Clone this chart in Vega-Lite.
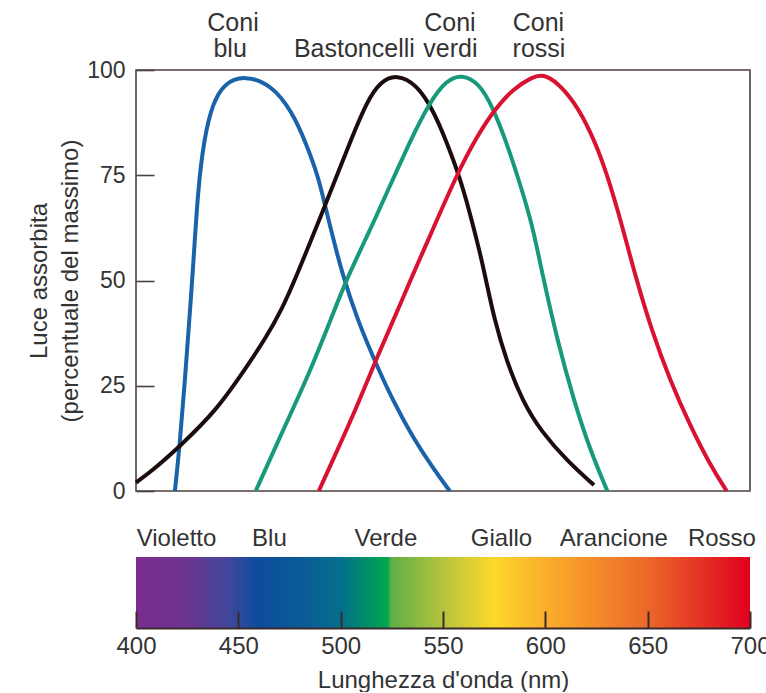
{
  "$schema": "https://vega.github.io/schema/vega-lite/v6.json",
  "background": "white",
  "padding": {"left": 26, "top": 10, "right": 0, "bottom": 0},
  "spacing": 23,
  "config": {
    "font": "Liberation Sans",
    "view": {"stroke": null},
    "axis": {
      "labelFont": "Liberation Sans",
      "titleFont": "Liberation Sans",
      "labelColor": "#333333",
      "titleColor": "#333333",
      "labelFontSize": 23,
      "titleFontSize": 24,
      "titleFontWeight": "normal",
      "grid": false
    }
  },
  "datasets": {
    "curves": [
      {"curve": "Coni blu", "nm": 419, "v": 0},
      {"curve": "Coni blu", "nm": 421.2, "v": 10},
      {"curve": "Coni blu", "nm": 423.7, "v": 25},
      {"curve": "Coni blu", "nm": 426.1, "v": 41},
      {"curve": "Coni blu", "nm": 427.9, "v": 53},
      {"curve": "Coni blu", "nm": 430.3, "v": 72},
      {"curve": "Coni blu", "nm": 433.4, "v": 84},
      {"curve": "Coni blu", "nm": 437.4, "v": 92},
      {"curve": "Coni blu", "nm": 443, "v": 96.8},
      {"curve": "Coni blu", "nm": 452.8, "v": 98.8},
      {"curve": "Coni blu", "nm": 466.6, "v": 96.4},
      {"curve": "Coni blu", "nm": 476.3, "v": 90},
      {"curve": "Coni blu", "nm": 482.8, "v": 83},
      {"curve": "Coni blu", "nm": 489.3, "v": 74.3},
      {"curve": "Coni blu", "nm": 492.2, "v": 68},
      {"curve": "Coni blu", "nm": 497.4, "v": 58},
      {"curve": "Coni blu", "nm": 500.6, "v": 52},
      {"curve": "Coni blu", "nm": 507.9, "v": 41},
      {"curve": "Coni blu", "nm": 516.8, "v": 30.7},
      {"curve": "Coni blu", "nm": 525.8, "v": 21.2},
      {"curve": "Coni blu", "nm": 535.5, "v": 12.5},
      {"curve": "Coni blu", "nm": 545.2, "v": 5.4},
      {"curve": "Coni blu", "nm": 553.3, "v": 0},
      {"curve": "Bastoncelli", "nm": 400, "v": 2},
      {"curve": "Bastoncelli", "nm": 408.3, "v": 5},
      {"curve": "Bastoncelli", "nm": 421.2, "v": 10.5},
      {"curve": "Bastoncelli", "nm": 439, "v": 19},
      {"curve": "Bastoncelli", "nm": 452, "v": 28},
      {"curve": "Bastoncelli", "nm": 463.4, "v": 36.3},
      {"curve": "Bastoncelli", "nm": 471.5, "v": 43.4},
      {"curve": "Bastoncelli", "nm": 478, "v": 50.5},
      {"curve": "Bastoncelli", "nm": 491.7, "v": 67},
      {"curve": "Bastoncelli", "nm": 498.2, "v": 75},
      {"curve": "Bastoncelli", "nm": 504.7, "v": 83},
      {"curve": "Bastoncelli", "nm": 512.8, "v": 92.5},
      {"curve": "Bastoncelli", "nm": 519.3, "v": 97.2},
      {"curve": "Bastoncelli", "nm": 527.4, "v": 99},
      {"curve": "Bastoncelli", "nm": 537.1, "v": 96.6},
      {"curve": "Bastoncelli", "nm": 545.2, "v": 90.5},
      {"curve": "Bastoncelli", "nm": 551.7, "v": 83},
      {"curve": "Bastoncelli", "nm": 558.2, "v": 74.5},
      {"curve": "Bastoncelli", "nm": 563, "v": 66.3},
      {"curve": "Bastoncelli", "nm": 567.9, "v": 57},
      {"curve": "Bastoncelli", "nm": 571.5, "v": 49},
      {"curve": "Bastoncelli", "nm": 575, "v": 41},
      {"curve": "Bastoncelli", "nm": 580.9, "v": 31},
      {"curve": "Bastoncelli", "nm": 589, "v": 21.2},
      {"curve": "Bastoncelli", "nm": 597.9, "v": 14.2},
      {"curve": "Bastoncelli", "nm": 610.9, "v": 7},
      {"curve": "Bastoncelli", "nm": 623.8, "v": 1.4},
      {"curve": "Coni verdi", "nm": 458.5, "v": 0},
      {"curve": "Coni verdi", "nm": 471.5, "v": 14.1},
      {"curve": "Coni verdi", "nm": 484.4, "v": 27.6},
      {"curve": "Coni verdi", "nm": 495.8, "v": 41.5},
      {"curve": "Coni verdi", "nm": 503, "v": 50.5},
      {"curve": "Coni verdi", "nm": 514.4, "v": 62},
      {"curve": "Coni verdi", "nm": 524.1, "v": 72.5},
      {"curve": "Coni verdi", "nm": 533.8, "v": 83},
      {"curve": "Coni verdi", "nm": 543.6, "v": 92.5},
      {"curve": "Coni verdi", "nm": 551.7, "v": 97.6},
      {"curve": "Coni verdi", "nm": 559, "v": 99},
      {"curve": "Coni verdi", "nm": 567.9, "v": 96.8},
      {"curve": "Coni verdi", "nm": 574.4, "v": 91},
      {"curve": "Coni verdi", "nm": 580.9, "v": 83},
      {"curve": "Coni verdi", "nm": 587.3, "v": 73.5},
      {"curve": "Coni verdi", "nm": 593.8, "v": 63},
      {"curve": "Coni verdi", "nm": 598.3, "v": 52},
      {"curve": "Coni verdi", "nm": 606, "v": 35.5},
      {"curve": "Coni verdi", "nm": 614.1, "v": 21.2},
      {"curve": "Coni verdi", "nm": 622.2, "v": 9.3},
      {"curve": "Coni verdi", "nm": 630.3, "v": 0},
      {"curve": "Coni rossi", "nm": 489.3, "v": 0},
      {"curve": "Coni rossi", "nm": 498.2, "v": 9.5},
      {"curve": "Coni rossi", "nm": 507.9, "v": 20},
      {"curve": "Coni rossi", "nm": 516.8, "v": 30.7},
      {"curve": "Coni rossi", "nm": 526.6, "v": 41.5},
      {"curve": "Coni rossi", "nm": 534, "v": 50},
      {"curve": "Coni rossi", "nm": 544, "v": 61},
      {"curve": "Coni rossi", "nm": 556.6, "v": 75},
      {"curve": "Coni rossi", "nm": 566.3, "v": 84},
      {"curve": "Coni rossi", "nm": 575, "v": 90.5},
      {"curve": "Coni rossi", "nm": 584.1, "v": 95.5},
      {"curve": "Coni rossi", "nm": 593.8, "v": 98.4},
      {"curve": "Coni rossi", "nm": 599, "v": 99},
      {"curve": "Coni rossi", "nm": 606, "v": 97},
      {"curve": "Coni rossi", "nm": 614.1, "v": 92.5},
      {"curve": "Coni rossi", "nm": 622.2, "v": 85.3},
      {"curve": "Coni rossi", "nm": 628.7, "v": 77.4},
      {"curve": "Coni rossi", "nm": 635.2, "v": 67.1},
      {"curve": "Coni rossi", "nm": 641.7, "v": 55.3},
      {"curve": "Coni rossi", "nm": 645, "v": 49.5},
      {"curve": "Coni rossi", "nm": 651.4, "v": 39},
      {"curve": "Coni rossi", "nm": 661.1, "v": 26},
      {"curve": "Coni rossi", "nm": 670.8, "v": 15.5},
      {"curve": "Coni rossi", "nm": 680.5, "v": 6.2},
      {"curve": "Coni rossi", "nm": 688.6, "v": 0}
    ],
    "curveLabels": [
      {"text": "Coni", "nm": 447.4, "v": 109.3},
      {"text": "blu", "nm": 446, "v": 103.1},
      {"text": "Bastoncelli", "nm": 506.7, "v": 103.1},
      {"text": "Coni", "nm": 553.4, "v": 109.3},
      {"text": "verdi", "nm": 553.6, "v": 103.1},
      {"text": "Coni", "nm": 596.6, "v": 109.3},
      {"text": "rossi", "nm": 596.9, "v": 103.1}
    ],
    "spectrum": [{"start": 400, "end": 700}],
    "colorNames": [
      {"name": "Violetto", "nm": 419.8, "v": 1.25},
      {"name": "Blu", "nm": 465.2, "v": 1.25},
      {"name": "Verde", "nm": 522.1, "v": 1.25},
      {"name": "Giallo", "nm": 578.6, "v": 1.25},
      {"name": "Arancione", "nm": 633.5, "v": 1.25},
      {"name": "Rosso", "nm": 686.3, "v": 1.25}
    ]
  },
  "vconcat": [
    {
      "width": 614,
      "height": 421,
      "view": {"stroke": "#4d4040", "strokeWidth": 1.6},
      "layer": [
        {
          "data": {"name": "curves"},
          "mark": {"type": "line", "strokeWidth": 4, "interpolate": "basis", "strokeCap": "butt"},
          "encoding": {
            "x": {"field": "nm", "type": "quantitative", "scale": {"domain": [400, 700], "nice": false, "zero": false}, "axis": null},
            "y": {
              "field": "v", "type": "quantitative",
              "scale": {"domain": [0, 100], "nice": false},
              "axis": {
                "values": [0, 25, 50, 75, 100],
                "tickSize": -18, "tickColor": "#4d4040", "tickWidth": 1.6,
                "domain": false, "labelPadding": 29,
                "title": ["Luce assorbita", "(percentuale del massimo)"],
                "titlePadding": 4, "titleLineHeight": 31
              }
            },
            "color": {
              "field": "curve", "type": "nominal",
              "scale": {"domain": ["Coni blu", "Bastoncelli", "Coni verdi", "Coni rossi"], "range": ["#1a62aa", "#1c0c0c", "#17997a", "#d81230"]},
              "legend": null
            }
          }
        },
        {
          "data": {"name": "curveLabels"},
          "mark": {"type": "text", "fontSize": 25, "color": "#333333", "baseline": "alphabetic", "align": "center", "font": "Liberation Sans"},
          "encoding": {
            "x": {"field": "nm", "type": "quantitative"},
            "y": {"field": "v", "type": "quantitative"},
            "text": {"field": "text"}
          }
        }
      ]
    },
    {
      "width": 614,
      "height": 71,
      "layer": [
        {
          "data": {"name": "spectrum"},
          "mark": {
            "type": "rect",
            "fill": {
              "gradient": "linear", "x1": 0, "x2": 1, "y1": 0, "y2": 0,
              "stops": [
                {"offset": 0, "color": "#7b2d8e"},
                {"offset": 0.083, "color": "#6c3590"},
                {"offset": 0.15, "color": "#40479b"},
                {"offset": 0.2, "color": "#0d4c9e"},
                {"offset": 0.267, "color": "#0b5a98"},
                {"offset": 0.333, "color": "#046f8c"},
                {"offset": 0.383, "color": "#009460"},
                {"offset": 0.41, "color": "#00a650"},
                {"offset": 0.415, "color": "#5fae48"},
                {"offset": 0.5, "color": "#b5c43c"},
                {"offset": 0.583, "color": "#fdd92a"},
                {"offset": 0.65, "color": "#fbb62b"},
                {"offset": 0.733, "color": "#f5922b"},
                {"offset": 0.833, "color": "#ec6829"},
                {"offset": 0.933, "color": "#e32a24"},
                {"offset": 1, "color": "#e0001e"}
              ]
            }
          },
          "encoding": {
            "x": {
              "field": "start", "type": "quantitative",
              "scale": {"domain": [400, 700], "nice": false, "zero": false},
              "axis": {
                "values": [400, 450, 500, 550, 600, 650, 700],
                "tickSize": -17, "tickWidth": 2, "tickColor": "#3a2a2a",
                "domainColor": "#3a2a2a", "domainWidth": 2,
                "labelPadding": 23, "labelFlush": false, "labelFontSize": 24,
                "zindex": 1,
                "title": "Lunghezza d'onda (nm)", "titlePadding": 10
              }
            },
            "x2": {"field": "end"}
          }
        },
        {
          "data": {"name": "colorNames"},
          "mark": {"type": "text", "fontSize": 24, "color": "#333333", "baseline": "middle", "align": "center", "font": "Liberation Sans"},
          "encoding": {
            "x": {"field": "nm", "type": "quantitative"},
            "y": {"field": "v", "type": "quantitative", "scale": {"domain": [0, 1], "nice": false}, "axis": null},
            "text": {"field": "name"}
          }
        }
      ]
    }
  ]
}
